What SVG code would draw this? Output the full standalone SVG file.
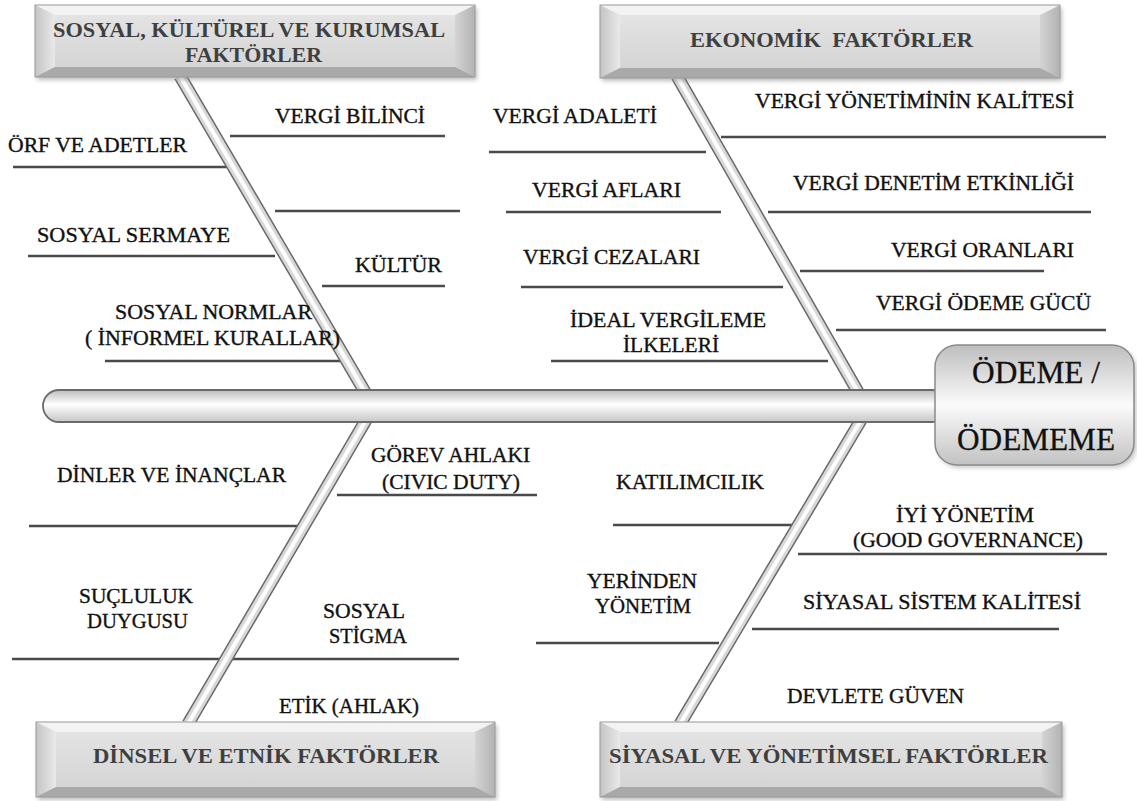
<svg xmlns="http://www.w3.org/2000/svg" width="1137" height="801" viewBox="0 0 1137 801">
<defs>
<style>
.lbl{font-family:"Liberation Serif","Times New Roman",serif;font-size:21.5px;fill:#111;stroke:#111;stroke-width:0.35}
.ttl{font-family:"Liberation Serif","Times New Roman",serif;font-weight:bold;font-size:21px;fill:#3f3f3f}
.ttlb{font-family:"Liberation Serif","Times New Roman",serif;font-weight:bold;font-size:22px;fill:#3f3f3f}
.head{font-family:"Liberation Serif","Times New Roman",serif;font-size:32px;fill:#111;stroke:#111;stroke-width:0.3}
.br{stroke:#4a4a4a;stroke-width:2.5;fill:none}
.to{stroke:#6a6a6a;stroke-width:13}
.tm{stroke:#d8d8d8;stroke-width:10}
.ti{stroke:#fdfdfd;stroke-width:4}
.face{fill:url(#gFace)}
.bt{fill:#f3f3f3}
.bl{fill:url(#gLeft)}
.brt{fill:url(#gRight)}
.bb{fill:#a9a9a9}
.edge{fill:none;stroke:#9a9a9a;stroke-width:1}
</style>
<linearGradient id="gFace" x1="0" y1="0" x2="0" y2="1"><stop offset="0" stop-color="#e6e6e6"/><stop offset="1" stop-color="#d2d2d2"/></linearGradient>
<linearGradient id="gLeft" x1="0" y1="0" x2="1" y2="0"><stop offset="0" stop-color="#c4c4c4"/><stop offset="1" stop-color="#e9e9e9"/></linearGradient>
<linearGradient id="gRight" x1="0" y1="0" x2="1" y2="0"><stop offset="0" stop-color="#d4d4d4"/><stop offset="1" stop-color="#b2b2b2"/></linearGradient>
<linearGradient id="gSpine" x1="0" y1="0" x2="0" y2="1"><stop offset="0" stop-color="#bdbdbd"/><stop offset="0.45" stop-color="#ffffff"/><stop offset="1" stop-color="#c6c6c6"/></linearGradient>
<linearGradient id="gHead" x1="0" y1="0" x2="0" y2="1"><stop offset="0" stop-color="#bebebe"/><stop offset="0.5" stop-color="#fbfbfb"/><stop offset="1" stop-color="#c2c2c2"/></linearGradient>
<filter id="sh" x="-5%" y="-10%" width="110%" height="130%"><feGaussianBlur stdDeviation="2"/></filter>
</defs>
<rect width="1137" height="801" fill="#ffffff"/>

<g id="branches">
<line class="br" x1="230" y1="136" x2="445" y2="136"/>
<line class="br" x1="13" y1="167" x2="228" y2="167"/>
<line class="br" x1="275" y1="211" x2="460" y2="211"/>
<line class="br" x1="28" y1="256" x2="275" y2="256"/>
<line class="br" x1="322" y1="286" x2="445" y2="286"/>
<line class="br" x1="105" y1="361" x2="352" y2="361"/>
<line class="br" x1="721" y1="137" x2="1106" y2="137"/>
<line class="br" x1="489" y1="152" x2="706" y2="152"/>
<line class="br" x1="506" y1="212" x2="721" y2="212"/>
<line class="br" x1="768" y1="212" x2="1091" y2="212"/>
<line class="br" x1="521" y1="287" x2="783" y2="287"/>
<line class="br" x1="800" y1="271" x2="1044" y2="271"/>
<line class="br" x1="836" y1="330" x2="1106" y2="330"/>
<line class="br" x1="551" y1="361" x2="828" y2="361"/>
<line class="br" x1="337" y1="495" x2="537" y2="495"/>
<line class="br" x1="29" y1="526" x2="298" y2="526"/>
<line class="br" x1="12" y1="659" x2="459" y2="659"/>
<line class="br" x1="613" y1="525" x2="792" y2="525"/>
<line class="br" x1="798" y1="554" x2="1107" y2="554"/>
<line class="br" x1="536" y1="643" x2="719" y2="643"/>
<line class="br" x1="752" y1="629" x2="1059" y2="629"/>
</g>

<g id="bones">
<g id="bone-tl"><line class="to" x1="180" y1="76" x2="365" y2="392"/><line class="tm" x1="180" y1="76" x2="365" y2="392"/><line class="ti" x1="180" y1="76" x2="365" y2="392"/></g>
<g id="bone-tr"><line class="to" x1="677" y1="76" x2="858" y2="392"/><line class="tm" x1="677" y1="76" x2="858" y2="392"/><line class="ti" x1="677" y1="76" x2="858" y2="392"/></g>
<g id="bone-bl"><line class="to" x1="366" y1="420" x2="188" y2="724"/><line class="tm" x1="366" y1="420" x2="188" y2="724"/><line class="ti" x1="366" y1="420" x2="188" y2="724"/></g>
<g id="bone-br"><line class="to" x1="861" y1="420" x2="680" y2="724"/><line class="tm" x1="861" y1="420" x2="680" y2="724"/><line class="ti" x1="861" y1="420" x2="680" y2="724"/></g>
</g>

<g id="spine">
<rect x="43" y="390" width="905" height="32" rx="16" ry="16" fill="url(#gSpine)" stroke="#6a6a6a" stroke-width="1.8"/>
</g>

<g id="head">
<rect x="937" y="348" width="200" height="120" rx="22" fill="#999" opacity="0.5" filter="url(#sh)"/>
<rect x="935" y="345" width="199" height="120" rx="22" fill="url(#gHead)" stroke="#8a8a8a" stroke-width="1.5"/>
<text class="head" x="972" y="383" textLength="128" lengthAdjust="spacingAndGlyphs">ÖDEME /</text>
<text class="head" x="957" y="450" textLength="158" lengthAdjust="spacingAndGlyphs">ÖDEMEME</text>
</g>

<g id="box-sosyal">
<rect x="37" y="8" width="440" height="72" fill="#888" opacity="0.55" filter="url(#sh)"/>
<rect x="35" y="5" width="440" height="72" class="face"/>
<polygon class="bt" points="35,5 475,5 455,15 55,15"/>
<polygon class="bl" points="35,5 55,15 55,67 35,77"/>
<polygon class="brt" points="475,5 475,77 455,67 455,15"/>
<polygon class="bb" points="35,77 55,67 455,67 475,77"/>
<rect x="35" y="5" width="440" height="72" class="edge"/>
<text class="ttl" x="53" y="37" textLength="392" lengthAdjust="spacingAndGlyphs">SOSYAL, KÜLTÜREL VE KURUMSAL</text>
<text class="ttl" x="185" y="62" textLength="137" lengthAdjust="spacingAndGlyphs">FAKTÖRLER</text>
</g>

<g id="box-ekonomik">
<rect x="602" y="8" width="460" height="73" fill="#888" opacity="0.55" filter="url(#sh)"/>
<rect x="600" y="5" width="460" height="73" class="face"/>
<polygon class="bt" points="600,5 1060,5 1040,15 620,15"/>
<polygon class="bl" points="600,5 620,15 620,68 600,78"/>
<polygon class="brt" points="1060,5 1060,78 1040,68 1040,15"/>
<polygon class="bb" points="600,78 620,68 1040,68 1060,78"/>
<rect x="600" y="5" width="460" height="73" class="edge"/>
<text class="ttl" x="690" y="47" textLength="283" lengthAdjust="spacingAndGlyphs" xml:space="preserve">EKONOMİK  FAKTÖRLER</text>
</g>

<g id="box-dinsel">
<rect x="38" y="725" width="459" height="75" fill="#888" opacity="0.55" filter="url(#sh)"/>
<rect x="36" y="722" width="459" height="75" class="face"/>
<polygon class="bt" points="36,722 495,722 475,732 56,732"/>
<polygon class="bl" points="36,722 56,732 56,787 36,797"/>
<polygon class="brt" points="495,722 495,797 475,787 475,732"/>
<polygon class="bb" points="36,797 56,787 475,787 495,797"/>
<rect x="36" y="722" width="459" height="75" class="edge"/>
<text class="ttlb" x="93" y="763" textLength="346" lengthAdjust="spacingAndGlyphs">DİNSEL VE ETNİK FAKTÖRLER</text>
</g>

<g id="box-siyasal">
<rect x="602" y="725" width="462" height="75" fill="#888" opacity="0.55" filter="url(#sh)"/>
<rect x="600" y="722" width="462" height="75" class="face"/>
<polygon class="bt" points="600,722 1062,722 1042,732 620,732"/>
<polygon class="bl" points="600,722 620,732 620,787 600,797"/>
<polygon class="brt" points="1062,722 1062,797 1042,787 1042,732"/>
<polygon class="bb" points="600,797 620,787 1042,787 1062,797"/>
<rect x="600" y="722" width="462" height="75" class="edge"/>
<text class="ttlb" x="609" y="763" textLength="439" lengthAdjust="spacingAndGlyphs">SİYASAL VE YÖNETİMSEL FAKTÖRLER</text>
</g>

<g id="labels">
<text class="lbl" x="275" y="123" textLength="150" lengthAdjust="spacingAndGlyphs">VERGİ BİLİNCİ</text>
<text class="lbl" x="8" y="152" textLength="179" lengthAdjust="spacingAndGlyphs">ÖRF VE ADETLER</text>
<text class="lbl" x="37" y="242" textLength="193" lengthAdjust="spacingAndGlyphs">SOSYAL SERMAYE</text>
<text class="lbl" x="355" y="272" textLength="87" lengthAdjust="spacingAndGlyphs">KÜLTÜR</text>
<text class="lbl" x="115" y="319" textLength="197" lengthAdjust="spacingAndGlyphs">SOSYAL NORMLAR</text>
<text class="lbl" x="85" y="345" textLength="255" lengthAdjust="spacingAndGlyphs">( İNFORMEL KURALLAR)</text>
<text class="lbl" x="755" y="108" textLength="319" lengthAdjust="spacingAndGlyphs">VERGİ YÖNETİMİNİN KALİTESİ</text>
<text class="lbl" x="493" y="123" textLength="164" lengthAdjust="spacingAndGlyphs">VERGİ ADALETİ</text>
<text class="lbl" x="532" y="197" textLength="149" lengthAdjust="spacingAndGlyphs">VERGİ AFLARI</text>
<text class="lbl" x="793" y="190" textLength="281" lengthAdjust="spacingAndGlyphs">VERGİ DENETİM ETKİNLİĞİ</text>
<text class="lbl" x="523" y="264" textLength="177" lengthAdjust="spacingAndGlyphs">VERGİ CEZALARI</text>
<text class="lbl" x="891" y="257" textLength="183" lengthAdjust="spacingAndGlyphs">VERGİ ORANLARI</text>
<text class="lbl" x="876" y="310" textLength="215" lengthAdjust="spacingAndGlyphs">VERGİ ÖDEME GÜCÜ</text>
<text class="lbl" x="570" y="327" textLength="196" lengthAdjust="spacingAndGlyphs">İDEAL VERGİLEME</text>
<text class="lbl" x="623" y="352" textLength="96" lengthAdjust="spacingAndGlyphs">İLKELERİ</text>
<text class="lbl" x="371" y="462" textLength="159" lengthAdjust="spacingAndGlyphs">GÖREV AHLAKI</text>
<text class="lbl" x="382" y="489" textLength="138" lengthAdjust="spacingAndGlyphs">(CIVIC DUTY)</text>
<text class="lbl" x="57" y="482" textLength="229" lengthAdjust="spacingAndGlyphs">DİNLER VE İNANÇLAR</text>
<text class="lbl" x="79" y="603" textLength="114" lengthAdjust="spacingAndGlyphs">SUÇLULUK</text>
<text class="lbl" x="87" y="628" textLength="101" lengthAdjust="spacingAndGlyphs">DUYGUSU</text>
<text class="lbl" x="323" y="618" textLength="82" lengthAdjust="spacingAndGlyphs">SOSYAL</text>
<text class="lbl" x="329" y="643" textLength="78" lengthAdjust="spacingAndGlyphs">STİGMA</text>
<text class="lbl" x="279" y="713" textLength="140" lengthAdjust="spacingAndGlyphs">ETİK (AHLAK)</text>
<text class="lbl" x="616" y="489" textLength="148" lengthAdjust="spacingAndGlyphs">KATILIMCILIK</text>
<text class="lbl" x="896" y="522" textLength="138" lengthAdjust="spacingAndGlyphs">İYİ YÖNETİM</text>
<text class="lbl" x="853" y="547" textLength="230" lengthAdjust="spacingAndGlyphs">(GOOD GOVERNANCE)</text>
<text class="lbl" x="587" y="588" textLength="110" lengthAdjust="spacingAndGlyphs">YERİNDEN</text>
<text class="lbl" x="595" y="613" textLength="96" lengthAdjust="spacingAndGlyphs">YÖNETİM</text>
<text class="lbl" x="803" y="609" textLength="278" lengthAdjust="spacingAndGlyphs">SİYASAL SİSTEM KALİTESİ</text>
<text class="lbl" x="787" y="703" textLength="177" lengthAdjust="spacingAndGlyphs">DEVLETE GÜVEN</text>
</g>
</svg>
